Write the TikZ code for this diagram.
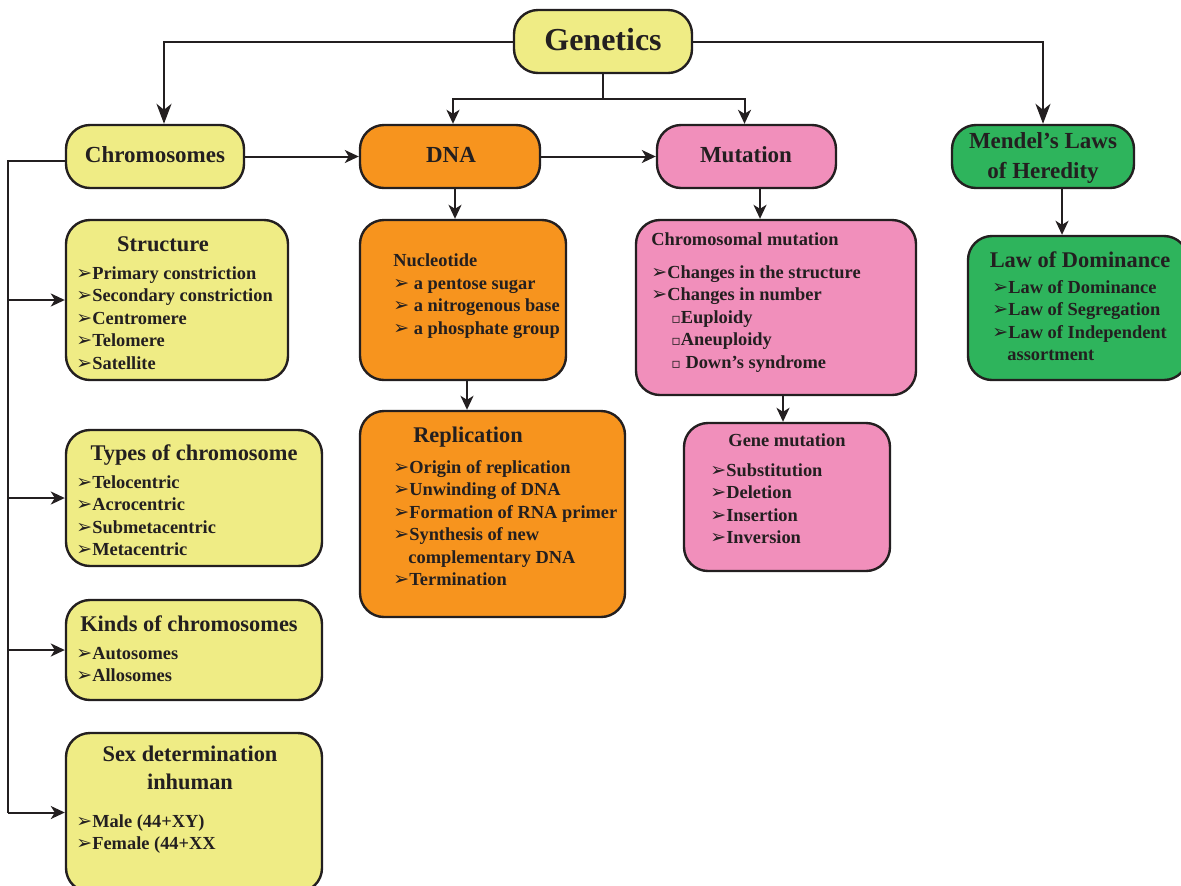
\documentclass[tikz,border=0pt]{standalone}
\usepackage{fontspec}
\setmainfont{Liberation Serif}
\newfontfamily\symf{DejaVu Sans}
\usetikzlibrary{arrows.meta,fit,calc}
\definecolor{yel}{RGB}{239,236,133}
\definecolor{org}{RGB}{247,148,30}
\definecolor{pnk}{RGB}{241,143,187}
\definecolor{grn}{RGB}{46,180,92}
\definecolor{tc}{RGB}{35,31,32}
\newcommand\arw{{\symf\fontsize{9.5}{9.5}\selectfont ➢}}
\newcommand\sqb{{\symf\fontsize{7}{7}\selectfont ▫}}
\begin{document}
\begin{tikzpicture}[x=0.5pt,y=-0.5pt,
  box/.style={draw=tc, line width=1.2pt, rounded corners=12pt, inner sep=0pt},
  conn/.style={draw=tc, line width=1pt, -{Stealth[length=7pt,width=6.5pt,inset=2pt]}},
  bigconn/.style={draw=tc, line width=1pt, -{Stealth[length=10pt,width=7.5pt,inset=3pt]}},
  line/.style={draw=tc, line width=1pt},
  big/.style={font=\bfseries\fontsize{16}{18}\selectfont, text=tc, inner sep=0pt, anchor=base},
  hd/.style={font=\bfseries\fontsize{11.5}{13}\selectfont, text=tc, inner sep=0pt, anchor=base},
  ttl/.style={font=\bfseries\fontsize{11.2}{13}\selectfont, text=tc, inner sep=0pt, anchor=base},
  itm/.style={font=\bfseries\fontsize{9.2}{11}\selectfont, text=tc, inner sep=0pt, anchor=base west}]
\useasboundingbox (0,0) rectangle (1181,885);

% boxes
\node[box, fill=yel, fit={(514,10)(692,73)}] (gen) {};
\node[box, fill=yel, fit={(66,125)(244,188)}] (chrom) {};
\node[box, fill=org, fit={(360,125)(540,188)}] (dna) {};
\node[box, fill=pnk, fit={(657,125)(836,188)}] (mut) {};
\node[box, fill=grn, fit={(952,125)(1134,188)}] (mend) {};
\node[box, fill=yel, fit={(66,220)(288,380)}] (struct) {};
\node[box, fill=yel, fit={(66,430)(322,566)}] (types) {};
\node[box, fill=yel, fit={(66,600)(322,700)}] (kinds) {};
\node[box, fill=yel, fit={(66,733)(322,892)}] (sex) {};
\node[box, fill=org, fit={(360,220)(566,380)}] (nuc) {};
\node[box, fill=org, fit={(360,411)(625,617)}] (rep) {};
\node[box, fill=pnk, fit={(636,220)(916,395)}] (cm) {};
\node[box, fill=pnk, fit={(684,423)(890,571)}] (gm) {};
\node[box, fill=grn, fit={(968,236)(1188,380)}] (law) {};

% headings
\node[big] (tgen) at (603,50) {Genetics};
\node[hd] (tchrom) at (155,162) {Chromosomes};
\node[hd] (tdna) at (451,162) {DNA};
\node[hd] (tmut) at (746,162) {Mutation};
\node[hd] (tmend1) at (1043,148) {Mendel’s Laws};
\node[hd] (tmend2) at (1043,178) {of Heredity};

% connectors
\coordinate (gj) at ($(gen.south)+(0,25)$);
\draw[bigconn] (gen.west) -| ([xshift=4.5pt]chrom.north);
\draw[bigconn] (gen.east) -| (mend.north);
\draw[line] (gen.south) -- (gj);
\draw[conn] (gj) -| ([xshift=1.5pt]dna.north);
\draw[conn] (gj) -| ([xshift=-1pt]mut.north);
\draw[conn] (chrom.east) -- (dna.west);
\draw[conn] (dna.east) -- (mut.west);
\coordinate (bus) at (8,161);
\draw[line] ([yshift=-2.25pt]chrom.west) -- (bus) -- (bus |- sex.west);
\draw[conn] (bus |- struct.west) -- (struct.west);
\draw[conn] (bus |- types.west) -- (types.west);
\draw[conn] (bus |- kinds.west) -- (kinds.west);
\draw[conn] (bus |- sex.west) -- (sex.west);
\draw[conn] ([xshift=-4pt]nuc.north |- dna.south) -- ([xshift=-4pt]nuc.north);
\draw[conn] ([xshift=2pt]nuc.south) -- ([xshift=2pt]nuc.south |- rep.north);
\draw[conn] ([xshift=-8pt]cm.north |- mut.south) -- ([xshift=-8pt]cm.north);
\draw[conn] ([xshift=-2pt]gm.north |- cm.south) -- ([xshift=-2pt]gm.north);
\draw[conn] ([xshift=9.5pt]mend.south) -- ([xshift=9.5pt]mend.south |- law.north);

% Structure
\node[ttl] (tstruct) at (163,251) {Structure};
\foreach \t [count=\i from 0] in {Primary constriction, Secondary constriction, Centromere, Telomere, Satellite}
  \node[itm] (st\i) at (76,279+22.5*\i) {\arw\t};

% Types
\node[ttl] (ttypes) at (194,460) {Types of chromosome};
\foreach \t [count=\i from 0] in {Telocentric, Acrocentric, Submetacentric, Metacentric}
  \node[itm] (ty\i) at (76,488+22.5*\i) {\arw\t};

% Kinds
\node[ttl] (tkinds) at (189,631) {Kinds of chromosomes};
\foreach \t [count=\i from 0] in {Autosomes, Allosomes}
  \node[itm] (ki\i) at (76,659+22.5*\i) {\arw\t};

% Sex determination
\node[ttl] (tsex1) at (190,761) {Sex determination};
\node[ttl] (tsex2) at (190,789) {inhuman};
\node[itm] (sx0) at (76,827) {\arw Male (44+XY)};
\node[itm] (sx1) at (76,849) {\arw Female (44+XX};

% Nucleotide
\node[itm] (tnuc) at (393,266) {Nucleotide};
\foreach \t [count=\i from 0] in {a pentose sugar, a nitrogenous base, a phosphate group}
  \node[itm] (nu\i) at (393,289+22.5*\i) {\arw\ \t};

% Replication
\node[ttl] (trep) at (468,442) {Replication};
\node[itm] (re0) at (393,473) {\arw Origin of replication};
\node[itm] (re1) at (393,495.5) {\arw Unwinding of DNA};
\node[itm] (re2) at (393,518) {\arw Formation of RNA primer};
\node[itm] (re3) at (393,540.5) {\arw Synthesis of new};
\node[itm] (re4) at (408,563) {complementary DNA};
\node[itm] (re5) at (393,585.5) {\arw Termination};

% Chromosomal mutation
\node[itm] (tcm) at (651,245) {Chromosomal mutation};
\node[itm] (cm0) at (651,278) {\arw Changes in the structure};
\node[itm] (cm1) at (651,300.5) {\arw Changes in number};
\node[itm] (cm2) at (671,323) {\sqb Euploidy};
\node[itm] (cm3) at (671,345.5) {\sqb Aneuploidy};
\node[itm] (cm4) at (671,368) {\sqb\ Down’s syndrome};

% Gene mutation
\node[itm, anchor=base] (tgm) at (787,446) {Gene mutation};
\foreach \t [count=\i from 0] in {Substitution, Deletion, Insertion, Inversion}
  \node[itm] (gm\i) at (710,476+22.5*\i) {\arw\t};

% Law of Dominance
\node[ttl] (tlaw) at (1080,267) {Law of Dominance};
\node[itm] (la0) at (992,293) {\arw Law of Dominance};
\node[itm] (la1) at (992,315.5) {\arw Law of Segregation};
\node[itm] (la2) at (992,338) {\arw Law of Independent};
\node[itm] (la3) at (1007,360.5) {assortment};
\end{tikzpicture}
\end{document}
